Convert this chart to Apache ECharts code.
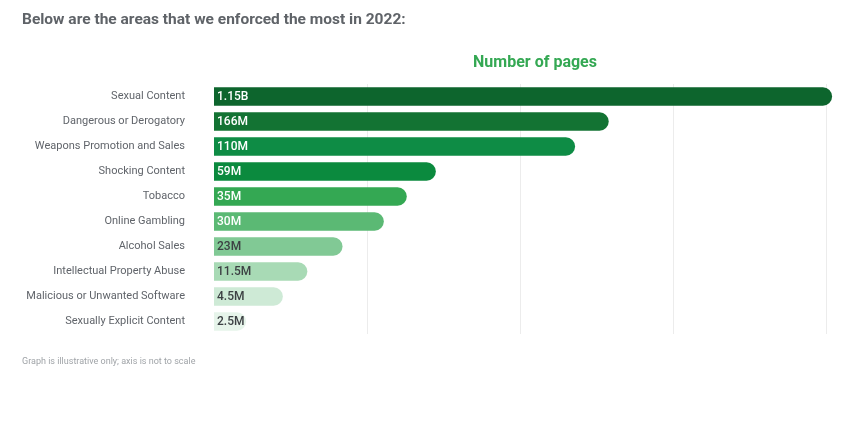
<!DOCTYPE html>
<html>
<head>
<meta charset="utf-8">
<script src="https://cdn.jsdelivr.net/npm/echarts@6/dist/echarts.min.js"></script>
<style>
html,body{margin:0;padding:0;background:#fff;}
#chart{width:842px;height:447px;}
</style>
</head>
<body>
<div id="chart"></div>
<script>
// Data (graph is illustrative; bar lengths read from the picture, not to scale)
const categories = [
  "Sexual Content",
  "Dangerous or Derogatory",
  "Weapons Promotion and Sales",
  "Shocking Content",
  "Tobacco",
  "Online Gambling",
  "Alcohol Sales",
  "Intellectual Property Abuse",
  "Malicious or Unwanted Software",
  "Sexually Explicit Content"
];
const valueLabels = ["1.15B", "166M", "110M", "59M", "35M", "30M", "23M", "11.5M", "4.5M", "2.5M"];
const barLengths = [4.04, 2.58, 2.36, 1.45, 1.26, 1.11, 0.84, 0.61, 0.45, 0.21];

const barColors = ["#0d652d", "#137333", "#0e8c45", "#0b8a3e", "#34a853", "#5bb974", "#81c995", "#a8dab5", "#ceead6", "#e6f4ea"];
const labelColors = ["#ffffff", "#ffffff", "#ffffff", "#ffffff", "#ffffff", "#ffffff", "#3c4043", "#3c4043", "#3c4043", "#3c4043"];

const chart = echarts.init(document.getElementById('chart'), null, {renderer: 'canvas'});
const font = 'Roboto, "Noto Sans", sans-serif';

chart.setOption({
  backgroundColor: '#ffffff',
  animation: false,
  title: [
    {
      text: 'Below are the areas that we enforced the most in 2022:',
      left: 22, top: 12, padding: 0,
      textStyle: {fontFamily: font, fontSize: 15.5, fontWeight: 'bold', color: '#5f6368'}
    },
    {
      text: 'Number of pages',
      left: 535, top: 55, padding: 0, textAlign: 'center',
      textStyle: {fontFamily: font, fontSize: 16, fontWeight: 'bold', color: '#34a853'}
    },
    {
      text: 'Graph is illustrative only; axis is not to scale',
      left: 22, top: 357, padding: 0,
      textStyle: {fontFamily: font, fontSize: 9, fontWeight: 'normal', color: '#a0a4a8'}
    }
  ],
  grid: {left: 214, top: 84, width: 612, height: 250, containLabel: false},
  xAxis: {
    type: 'value', min: 0, max: 4, interval: 1,
    axisLine: {show: false}, axisTick: {show: false}, axisLabel: {show: false},
    splitLine: {show: true, showMinLine: false, lineStyle: {color: '#ececec', width: 1}}
  },
  yAxis: {
    type: 'category', data: categories, inverse: true,
    axisLine: {show: false}, axisTick: {show: false},
    axisLabel: {margin: 29, fontFamily: font, fontSize: 11, color: '#60646a'}
  },
  series: [{
    type: 'bar',
    clip: false,
    barWidth: 18.5,
    data: barLengths.map((v, i) => ({
      value: v,
      itemStyle: {color: barColors[i], borderRadius: [0, 9.25, 9.25, 0]},
      label: {color: labelColors[i]}
    })),
    label: {
      show: true, position: 'insideLeft', distance: 3,
      formatter: p => valueLabels[p.dataIndex],
      fontFamily: font, fontSize: 12, fontWeight: 500
    }
  }]
});
</script>
</body>
</html>
